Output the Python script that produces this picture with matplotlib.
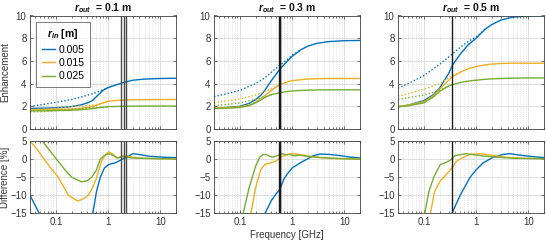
import numpy as np
import matplotlib
matplotlib.use("Agg")
import matplotlib.pyplot as plt
from matplotlib.ticker import LogLocator, FixedLocator, NullFormatter

plt.rcParams['font.family'] = ['Liberation Sans', 'DejaVu Sans']
plt.rcParams['mathtext.fontset'] = 'custom'
plt.rcParams['mathtext.it'] = 'Liberation Sans:italic:bold'
plt.rcParams['mathtext.rm'] = 'Liberation Sans:bold'
plt.rcParams['mathtext.bf'] = 'Liberation Sans:bold'

nan = float("nan")

# ---------------- data ----------------
r_out = ["0.1", "0.3", "0.5"]
r_in_labels = ["0.005", "0.015", "0.025"]
colors = ["#0072BD", "#EDB120", "#77AC30"]

# Enhancement (exact, solid) r_out = 0.1
f_e1 = [0.032, 0.05, 0.08, 0.1, 0.15, 0.2, 0.3, 0.4, 0.5, 0.6, 0.8, 1, 1.5, 2, 3, 5, 10, 20]
e1_blue = [1.82, 1.83, 1.85, 1.87, 1.92, 1.98, 2.12, 2.3, 2.5, 2.85, 3.4, 3.65, 3.92, 4.1, 4.3, 4.4, 4.45, 4.47]
e1_orange = [1.72, 1.72, 1.72, 1.73, 1.74, 1.76, 1.82, 1.9, 1.98, 2.1, 2.3, 2.45, 2.52, 2.55, 2.57, 2.58, 2.6, 2.6]
e1_green = [1.6, 1.6, 1.61, 1.62, 1.63, 1.65, 1.7, 1.75, 1.8, 1.85, 1.92, 1.97, 1.99, 2.0, 2.01, 2.02, 2.02, 2.02]
# Enhancement (approximation, dotted) r_out = 0.1
fa1_blue = [0.032, 0.05, 0.1, 0.2, 0.3, 0.5, 0.8, 1.0, 1.5]
a1_blue = [2.0, 2.12, 2.35, 2.6, 2.8, 3.1, 3.45, 3.65, 3.92]
fa1_orange = [0.032, 0.06, 0.1, 0.25, 0.45, 0.6, 0.8, 1.0]
a1_orange = [1.64, 1.72, 1.82, 2.02, 2.09, 2.14, 2.3, 2.42]
fa1_green = [0.032, 0.055, 0.1, 0.2, 0.3, 0.5, 0.7, 0.8, 1.0]
a1_green = [1.52, 1.53, 1.62, 1.74, 1.81, 1.89, 1.91, 1.92, 1.95]

# r_out = 0.3
f_e2 = [0.032, 0.05, 0.1, 0.15, 0.2, 0.25, 0.3, 0.4, 0.58, 0.8, 1, 1.5, 2, 3, 5, 10, 20]
e2_blue = [1.85, 1.88, 2.0, 2.25, 2.6, 2.95, 3.4, 4.25, 5.25, 5.95, 6.4, 7.0, 7.3, 7.55, 7.7, 7.78, 7.8]
e2_orange = [1.85, 1.87, 1.95, 2.1, 2.35, 2.65, 2.95, 3.4, 3.9, 4.15, 4.25, 4.35, 4.4, 4.43, 4.45, 4.45, 4.45]
e2_green = [1.8, 1.82, 1.9, 2.05, 2.3, 2.55, 2.78, 3.02, 3.2, 3.3, 3.35, 3.4, 3.42, 3.44, 3.45, 3.45, 3.45]
fa2_blue = [0.032, 0.05, 0.1, 0.2, 0.3, 0.4, 0.58, 0.8, 1.0, 1.5]
a2_blue = [2.85, 3.05, 3.4, 4.0, 4.5, 5.0, 5.6, 6.1, 6.5, 7.0]
fa2_orange = [0.032, 0.05, 0.1, 0.2, 0.3, 0.4, 0.58]
a2_orange = [2.3, 2.45, 2.65, 3.0, 3.3, 3.55, 3.92]
fa2_green = [0.032, 0.05, 0.1, 0.2, 0.3, 0.4]
a2_green = [2.05, 2.15, 2.3, 2.6, 2.85, 3.02]

# r_out = 0.5
f_e3 = [0.032, 0.05, 0.1, 0.15, 0.2, 0.3, 0.35, 0.5, 0.7, 1, 1.5, 2, 3, 5, 10, 20]
e3_blue = [1.97, 2.1, 2.5, 3.0, 3.6, 4.9, 5.6, 6.6, 7.4, 8.0, 8.8, 9.2, 9.6, 9.85, 9.97, 10.0]
e3_orange = [2.0, 2.1, 2.4, 2.9, 3.5, 4.3, 4.6, 5.0, 5.3, 5.5, 5.65, 5.72, 5.77, 5.8, 5.8, 5.8]
e3_green = [1.95, 2.05, 2.3, 2.8, 3.3, 3.8, 3.9, 4.1, 4.22, 4.3, 4.38, 4.42, 4.45, 4.48, 4.5, 4.5]
fa3_blue = [0.032, 0.05, 0.1, 0.2, 0.35, 0.5, 0.7, 1.0, 1.5]
a3_blue = [3.6, 4.0, 4.7, 5.7, 6.6, 7.2, 7.7, 8.1, 8.8]
fa3_orange = [0.032, 0.05, 0.1, 0.2, 0.35, 0.5]
a3_orange = [2.9, 3.1, 3.5, 4.0, 4.7, 5.0]
fa3_green = [0.032, 0.05, 0.1, 0.2, 0.3]
a3_green = [2.6, 2.75, 3.0, 3.4, 3.8]

# Difference [%]  r_out = 0.1  (nan = curve is off-scale below -15)
fd1_blue = [0.032, 0.048, 0.2, 0.51, 0.6, 0.71, 0.85, 1.03, 1.4, 1.9, 2.6, 3.0, 4.2, 6.0, 11.7, 20]
d1_blue = [-10, -15, nan, -15, -9, -5, -2.5, -1.5, -1.0, 0.0, 1.0, 1.5, 1.2, 0.8, 0.5, 0.4]
fd1_orange = [0.032, 0.045, 0.056, 0.08, 0.111, 0.174, 0.26, 0.34, 0.42, 0.52, 0.61, 0.75, 0.9, 1.03, 1.2, 1.5, 2.0, 3.0, 5.0, 10, 20]
d1_orange = [5, 2.5, 0.5, -2.5, -5, -10, -11.6, -11.0, -10, -7.5, -5, -0.5, 1.2, 2.0, 1.5, 0.3, 1.0, 0.5, 0.2, 0.1, 0.0]
fd1_green = [0.055, 0.075, 0.103, 0.15, 0.2, 0.31, 0.4, 0.49, 0.6, 0.71, 0.85, 1.03, 1.25, 1.49, 2.0, 2.8, 5.0, 10, 20]
d1_green = [5, 2.5, 0, -3, -5, -6.3, -6.0, -5, -3, 0, 1.0, 1.5, 1.0, 0.3, 0.7, 0.3, 0.2, 0.1, 0.05]

# Difference [%]  r_out = 0.3
fd2_blue = [0.305, 0.4, 0.5, 0.58, 0.7, 0.8, 1.0, 1.45, 1.95, 2.5, 3.5, 5, 8, 12, 20]
d2_blue = [-15, -11.5, -9.5, -8.5, -5.5, -4.2, -2.5, -1.0, 0.0, 0.9, 1.4, 1.3, 1.0, 0.6, 0.3]
fd2_orange = [0.163, 0.2, 0.25, 0.3, 0.4, 0.5, 0.6, 0.7, 1.0, 1.5, 2, 3, 5, 10, 20]
d2_orange = [-15, -8, -3, -1.5, -1.0, -0.5, 0.5, 1.0, 1.5, 1.2, 0.9, 0.5, 0.2, 0.05, 0.0]
fd2_green = [0.116, 0.15, 0.2, 0.24, 0.28, 0.33, 0.4, 0.45, 0.55, 0.65, 0.75, 0.9, 1.1, 1.4, 2, 3, 5, 10, 20]
d2_green = [-15, -8, -2, 0.5, 1.3, 1.2, 0.6, 0.6, 1.1, 1.5, 1.2, 1.3, 0.9, 1.1, 0.7, 0.5, 0.3, 0.1, 0.0]

# Difference [%]  r_out = 0.5
fd3_blue = [0.346, 0.497, 0.77, 1.0, 1.38, 2.13, 3.3, 4.5, 6, 10, 20]
d3_blue = [-15, -10, -5, -3, -1, 0.5, 1.3, 1.5, 1.2, 0.8, 0.4]
fd3_orange = [0.134, 0.16, 0.207, 0.26, 0.321, 0.43, 0.57, 0.77, 1.19, 2.13, 3.8, 8.8, 20]
d3_orange = [-15, -9, -6, -4.5, -3, -0.5, 0.5, 1.3, 1.5, 1.0, 0.5, 0.2, 0.1]
fd3_green = [0.104, 0.125, 0.155, 0.207, 0.258, 0.321, 0.4, 0.5, 0.646, 0.9, 1.5, 2.6, 5.6, 20]
d3_green = [-15, -9, -5, -1.5, -1.0, -0.3, 1.0, 1.2, 1.5, 1.2, 0.8, 0.5, 0.2, 0.1]

# vertical marker frequencies (GHz)
vlines = [[1.78, 2.0, 2.25], [0.565, 0.58, 0.595], [0.346]]
vline_colors = ["#4a4a4a", "#1a1a1a", "#1a1a1a"]

xticks = [0.1, 1, 10]
xticklabels = ["0.1", "1", "10"]
yticks_top = [0, 2, 4, 6, 8, 10]
yticks_bot = [-15, -10, -5, 0, 5]

exact = [(f_e1, [e1_blue, e1_orange, e1_green]),
         (f_e2, [e2_blue, e2_orange, e2_green]),
         (f_e3, [e3_blue, e3_orange, e3_green])]
approx = [[(fa1_blue, a1_blue), (fa1_orange, a1_orange), (fa1_green, a1_green)],
          [(fa2_blue, a2_blue), (fa2_orange, a2_orange), (fa2_green, a2_green)],
          [(fa3_blue, a3_blue), (fa3_orange, a3_orange), (fa3_green, a3_green)]]
diffs = [[(fd1_blue, d1_blue), (fd1_orange, d1_orange), (fd1_green, d1_green)],
         [(fd2_blue, d2_blue), (fd2_orange, d2_orange), (fd2_green, d2_green)],
         [(fd3_blue, d3_blue), (fd3_orange, d3_orange), (fd3_green, d3_green)]]

# ---------------- figure ----------------
W, H = 546, 240
fig = plt.figure(figsize=(W / 100, H / 100), dpi=100)
lefts = [30, 214, 398]
aw = 146
top_y0, top_y1 = 15.5, 129
bot_y0, bot_y1 = 141, 213.3

axis_col = "#404040"
fs = 7


def style(ax, ylim, yticks, show_xlabels):
    ax.set_xscale("log")
    ax.set_xlim(0.032, 20)
    ax.set_ylim(*ylim)
    ax.set_yticks(yticks)
    ax.xaxis.set_major_locator(FixedLocator(xticks))
    ax.xaxis.set_minor_locator(LogLocator(base=10, subs=np.arange(2, 10)))
    ax.xaxis.set_minor_formatter(NullFormatter())
    if show_xlabels:
        ax.set_xticklabels(xticklabels)
    else:
        ax.set_xticklabels([])
    ax.grid(True, which="major", color="#d9d9d9", lw=0.6, ls="-")
    ax.grid(True, which="minor", axis="x", color="#cfcfcf", lw=0.5, ls=(0, (1, 2)))
    ax.set_axisbelow(True)
    ax.tick_params(which="both", direction="in", top=True, right=True,
                   colors=axis_col, labelcolor="#333333", labelsize=fs, width=0.5)
    ax.tick_params(which="major", length=2.5, pad=2.5)
    ax.tick_params(which="minor", length=1.2)
    for s in ax.spines.values():
        s.set_color(axis_col)
        s.set_linewidth(0.6)


for i in range(3):
    axt = fig.add_axes([lefts[i] / W, 1 - top_y1 / H, aw / W, (top_y1 - top_y0) / H])
    axb = fig.add_axes([lefts[i] / W, 1 - bot_y1 / H, aw / W, (bot_y1 - bot_y0) / H])
    style(axt, (0, 10), yticks_top, False)
    style(axb, (-15, 5), yticks_bot, True)

    f, series = exact[i]
    handles = []
    for k in range(3):
        fa, va = approx[i][k]
        axt.plot(fa, va, ls=(0, (1, 1.5)), color=colors[k], lw=1.0)
        h, = axt.plot(f, series[k], color=colors[k], lw=1.0)
        handles.append(h)
        fd, vd = diffs[i][k]
        axb.plot(fd, vd, color=colors[k], lw=1.0)
    for fv in vlines[i]:
        axt.axvline(fv, color=vline_colors[i], lw=1.0)
        axb.axvline(fv, color=vline_colors[i], lw=1.0)

    axt.set_title(r"$r_{out}$" + "  = " + r_out[i] + " m", fontsize=7.5,
                  fontweight="bold", pad=3, color="#111111")

    if i == 0:
        axt.set_ylabel("Enhancement", fontsize=fs, color="#333333")
        axb.set_ylabel("Difference [%]", fontsize=fs, color="#333333")
        axt.yaxis.set_label_coords(-0.135, 0.5)
        axb.yaxis.set_label_coords(-0.135, 0.5)
        leg = axt.legend(handles, r_in_labels, loc="upper left",
                         title=r"$r_{in}$ [m]", fontsize=7.5, title_fontsize=7.5,
                         frameon=True, fancybox=False, edgecolor=axis_col,
                         handlelength=1.3, handletextpad=0.3, borderpad=0.55,
                         borderaxespad=0.0, labelspacing=0.32,
                         bbox_to_anchor=(0.04, 0.945))
        leg.get_frame().set_linewidth(0.6)
        leg.get_title().set_fontweight("bold")
    if i == 1:
        axb.set_xlabel("Frequency [GHz]", fontsize=fs, color="#333333", labelpad=2)

fig.savefig("out.png", dpi=100)
